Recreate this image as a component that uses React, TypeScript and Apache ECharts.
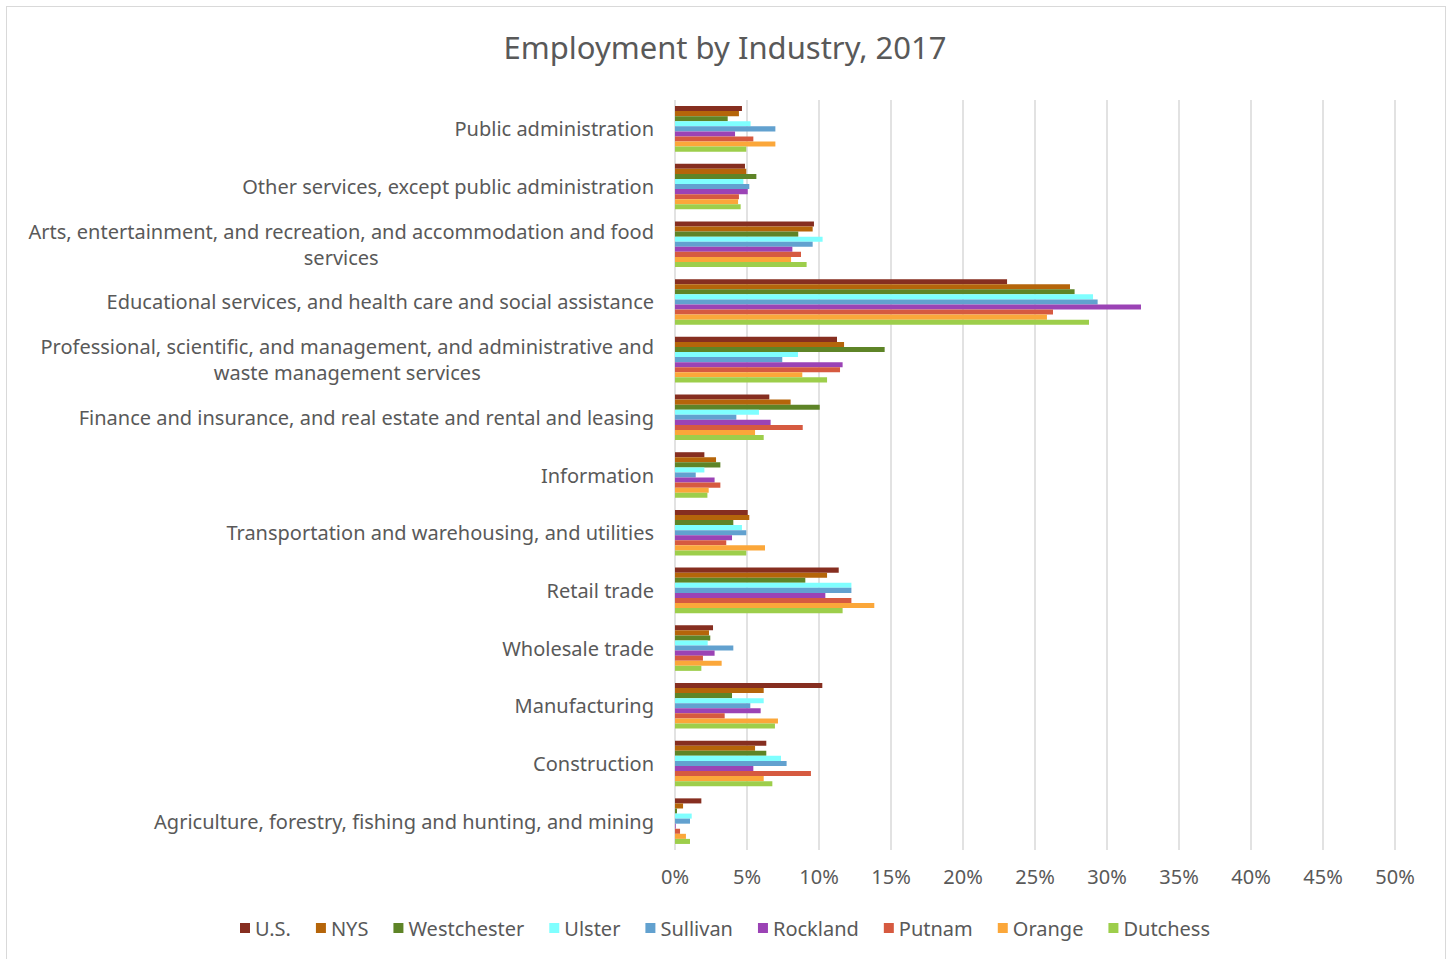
import React, { useEffect, useRef } from "react";
import * as echarts from "echarts";

const categories = [
  "Public administration",
  "Other services, except public administration",
  "Arts, entertainment, and recreation, and accommodation and food\nservices",
  "Educational services, and health care and social assistance",
  "Professional, scientific, and management, and administrative and\nwaste management services",
  "Finance and insurance, and real estate and rental and leasing",
  "Information",
  "Transportation and warehousing, and utilities",
  "Retail trade",
  "Wholesale trade",
  "Manufacturing",
  "Construction",
  "Agriculture, forestry, fishing and hunting, and mining",
];

const seriesNames = ["U.S.", "NYS", "Westchester", "Ulster", "Sullivan", "Rockland", "Putnam", "Orange", "Dutchess"];
const colors = ["#862E20", "#B5650A", "#5E8427", "#7FFFFF", "#62A1CF", "#9B43B5", "#D65A40", "#FBA73A", "#9DCE4B"];

const usData = [4.65, 4.86, 9.65, 23.06, 11.25, 6.55, 2.04, 5.05, 11.37, 2.64, 10.23, 6.34, 1.83];
const nysData = [4.44, 4.95, 9.56, 27.43, 11.74, 8.03, 2.85, 5.16, 10.56, 2.36, 6.16, 5.56, 0.56];
const westchesterData = [3.66, 5.65, 8.56, 27.75, 14.56, 10.05, 3.15, 4.05, 9.05, 2.45, 3.96, 6.34, 0.14];
const ulsterData = [5.25, 4.75, 10.25, 29.03, 8.54, 5.83, 2.04, 4.65, 12.25, 2.27, 6.16, 7.36, 1.16];
const sullivanData = [6.97, 5.16, 9.56, 29.35, 7.45, 4.26, 1.44, 4.95, 12.25, 4.05, 5.23, 7.75, 1.04];
const rocklandData = [4.17, 5.05, 8.15, 32.36, 11.64, 6.64, 2.75, 3.96, 10.44, 2.75, 5.95, 5.44, 0.05];
const putnamData = [5.44, 4.44, 8.75, 26.25, 11.46, 8.87, 3.15, 3.56, 12.25, 1.94, 3.45, 9.44, 0.35];
const orangeData = [6.97, 4.38, 8.06, 25.83, 8.84, 5.56, 2.34, 6.25, 13.84, 3.24, 7.15, 6.16, 0.76];
const dutchessData = [4.95, 4.56, 9.14, 28.75, 10.56, 6.16, 2.25, 4.95, 11.64, 1.83, 6.94, 6.76, 1.04];

const allData = [usData, nysData, westchesterData, ulsterData, sullivanData, rocklandData, putnamData, orangeData, dutchessData];

const FONT = "Noto Sans";
const GRAY = "#595959";

export default function App() {
  const ref = useRef<HTMLDivElement>(null);
  useEffect(() => {
    if (!ref.current) return;
    const chart = echarts.init(ref.current, null, { renderer: "svg" });
    chart.setOption({
      animation: false,
      textStyle: { fontFamily: FONT },
      title: {
        text: "Employment by Industry, 2017",
        left: "center",
        top: 26,
        textStyle: { fontFamily: FONT, fontSize: 31, fontWeight: "normal", color: GRAY },
      },
      legend: {
        bottom: 16,
        left: "center",
        itemWidth: 10,
        itemHeight: 10,
        itemGap: 25,
        icon: "rect",
        textStyle: { fontFamily: FONT, fontSize: 20, color: GRAY },
        data: seriesNames,
      },
      grid: { left: 675, right: 55, top: 100, bottom: 109 },
      xAxis: {
        type: "value",
        min: 0,
        max: 50,
        interval: 5,
        axisLine: { show: false },
        axisTick: { show: false },
        axisLabel: { formatter: "{value}%", fontFamily: FONT, fontSize: 20, color: GRAY, margin: 16 },
        splitLine: { show: true, lineStyle: { color: "#D9D9D9", width: 1.5 } },
      },
      yAxis: {
        type: "category",
        inverse: true,
        data: categories,
        axisLine: { show: false },
        axisTick: { show: false },
        axisLabel: {
          margin: 21,
          fontFamily: FONT,
          fontSize: 20,
          color: GRAY,
          lineHeight: 26,
          formatter: (v: string) =>
            v
              .split("\n")
              .map((l) => "{c|" + l + "}")
              .join("\n"),
          rich: { c: { align: "center", fontFamily: FONT, fontSize: 20, color: GRAY, lineHeight: 26 } },
        },
      },
      series: seriesNames.map((name, i) => ({
        name,
        type: "bar",
        data: allData[i],
        itemStyle: { color: colors[i] },
        barGap: "0%",
        barCategoryGap: "21%",
      })),
    });
    return () => chart.dispose();
  }, []);
  return (
    <>
      <div
        style={{
          position: "absolute",
          left: 6,
          top: 6,
          width: 1440,
          height: 970,
          border: "1px solid #D9D9D9",
          boxSizing: "border-box",
        }}
      />
      <div ref={ref} style={{ position: "absolute", left: 0, top: 0, width: 1450, height: 959 }} />
    </>
  );
}
